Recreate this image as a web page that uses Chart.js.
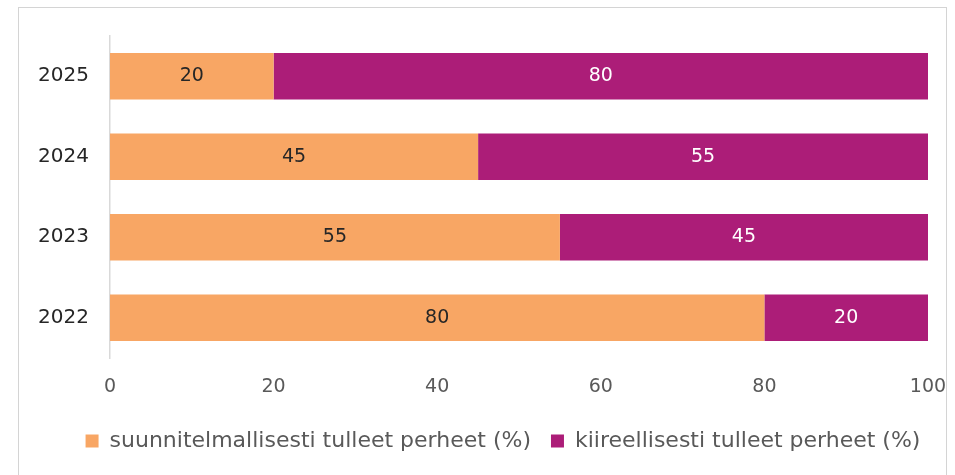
<!DOCTYPE html>
<html>
<head>
<meta charset="utf-8">
<script src="https://cdn.jsdelivr.net/npm/chart.js@4.4.0/dist/chart.umd.min.js"></script>
<style>
body{margin:0;background:#fff;}
#frame{position:absolute;left:18px;top:7px;width:929px;height:480px;border:1.5px solid #d4d4d4;box-sizing:border-box;}
#wrap{position:absolute;left:0;top:0;width:955px;height:475px;}
</style>
</head>
<body>
<div id="frame"></div>
<div id="wrap"><canvas id="chart" width="955" height="475"></canvas></div>
<script>
const years=["2025","2024","2023","2022"];
const planned=[20,45,55,80];
const urgent=[80,55,45,20];
const xTicks=[0,20,40,60,80,100];

const FONT="DejaVu Sans";

// labels inside the bars
const barLabels={
id:"barLabels",
afterLayout(chart){
// legend sits a bit right of centre in the original
chart.legend.left+=39;
chart.legend.right+=39;
},
afterDatasetsDraw(chart){
const ctx=chart.ctx;
ctx.save();
ctx.font="19px "+FONT;
ctx.textAlign="center";
ctx.textBaseline="middle";
chart.data.datasets.forEach((ds,i)=>{
chart.getDatasetMeta(i).data.forEach((bar,j)=>{
ctx.fillStyle=i==0?"#262626":"#ffffff";
ctx.fillText(ds.data[j],(bar.x+bar.base)/2,bar.y);
});
});
ctx.restore();
}
};

new Chart(document.getElementById("chart"),{
type:"bar",
data:{
labels:years,
datasets:[{
label:"suunnitelmallisesti tulleet perheet (%)",
data:planned,
backgroundColor:"#f8a664"
},{
label:"kiireellisesti tulleet perheet (%)",
data:urgent,
backgroundColor:"#ac1d78"
}]
},
options:{
indexAxis:"y",
responsive:false,
animation:false,
devicePixelRatio:1,
layout:{padding:{top:36,right:27,bottom:13,left:0}},
datasets:{bar:{categoryPercentage:1,barPercentage:0.575}},
scales:{
x:{
stacked:true,min:0,max:100,
afterBuildTicks:a=>{a.ticks=xTicks.map(v=>({value:v}));},
grid:{display:false},
border:{display:false},
ticks:{color:"#595959",font:{family:FONT,size:19},padding:10},
afterFit:a=>{a.height=52;a.paddingLeft=0;a.paddingRight=0;}
},
y:{
stacked:true,
grid:{drawOnChartArea:false,drawTicks:false},
border:{color:"#d9d9d9",width:1.5},
ticks:{color:"#262626",font:{family:FONT,size:20},padding:21},
afterFit:a=>{a.width=110;}
}
},
plugins:{
legend:{
position:"bottom",
labels:{color:"#595959",font:{family:FONT,size:22},boxWidth:13,boxHeight:13,padding:20}
},
tooltip:{enabled:false}
}
},
plugins:[barLabels]
});
</script>
</body>
</html>
